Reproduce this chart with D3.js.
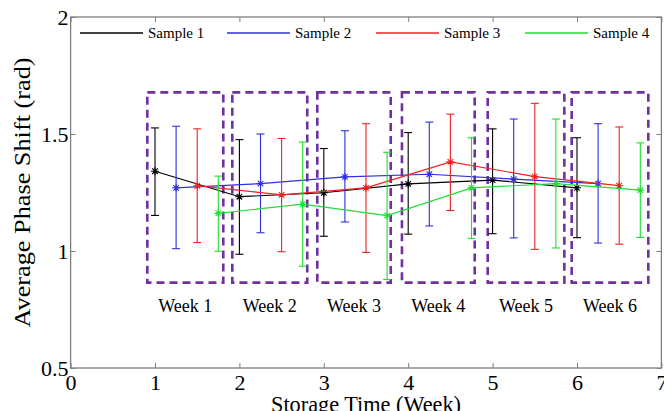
<!DOCTYPE html>
<html><head><meta charset="utf-8">
<script src="https://cdn.jsdelivr.net/npm/d3@7"></script>
<style>body{margin:0;background:#fff}svg{display:block}text{font-family:"Liberation Serif","Times New Roman",serif}</style>
</head><body><svg id="c" width="664" height="411"></svg>
<script>
const seriesNames = ["Sample 1","Sample 2","Sample 3","Sample 4"];
const seriesColors = ["#000000","#2f2fe0","#ee2222","#22dd33"];
const offsets = [0, 0.25, 0.5, 0.75];
const weeks = [1,2,3,4,5,6];
const weekLabels = ["Week 1","Week 2","Week 3","Week 4","Week 5","Week 6"];
const mean1 = [1.341,1.232,1.249,1.287,1.303,1.270];
const mean2 = [1.270,1.288,1.317,1.328,1.307,1.288];
const mean3 = [1.279,1.240,1.270,1.381,1.318,1.279];
const mean4 = [1.161,1.200,1.151,1.270,1.288,1.260];
const hi1 = [1.526,1.476,1.438,1.506,1.522,1.484];
const lo1 = [1.152,0.986,1.063,1.072,1.074,1.057];
const hi2 = [1.533,1.500,1.514,1.551,1.564,1.544];
const lo2 = [1.010,1.078,1.124,1.107,1.056,1.034];
const hi3 = [1.522,1.481,1.544,1.585,1.631,1.530];
const lo3 = [1.036,0.997,0.994,1.173,1.007,1.029];
const hi4 = [1.320,1.466,1.422,1.484,1.564,1.462];
const lo4 = [0.999,0.935,0.878,1.054,1.013,1.058];
const boxStart = [0.909,1.916,2.923,3.926,4.942,5.937];
const boxEnd = [1.809,2.804,3.793,4.788,5.850,6.845];
const boxLow = 0.865, boxHigh = 1.678;
const xTicks = [0,1,2,3,4,5,6,7];
const yTicks = [0.5,1,1.5,2];

const means=[mean1,mean2,mean3,mean4], his=[hi1,hi2,hi3,hi4], los=[lo1,lo2,lo3,lo4];
const svg = d3.select("#c");
const L=70.6, R=661.4, T=17, B=368;
const x = d3.scaleLinear().domain([0,7]).range([L,R]);
const y = d3.scaleLinear().domain([0.5,2]).range([B,T]);
const axisCol="#7f7f7f";

// frame
svg.append("rect").attr("x",L).attr("y",T).attr("width",R-L).attr("height",B-T)
  .attr("fill","none").attr("stroke",axisCol).attr("stroke-width",1.3);

function styleAxis(g){g.select(".domain").remove();g.selectAll(".tick line").attr("stroke",axisCol);
  g.selectAll(".tick text").attr("fill","#000").style("font-family","Liberation Serif");}
svg.append("g").attr("transform",`translate(0,${B})`)
  .call(d3.axisBottom(x).tickValues(xTicks).tickFormat(d3.format("d")).tickSizeInner(-5).tickPadding(6))
  .call(styleAxis).call(g=>g.selectAll(".tick text").attr("font-size",22));
svg.append("g").attr("transform",`translate(0,${T})`)
  .call(d3.axisTop(x).tickValues(xTicks).tickFormat("").tickSizeInner(-5)).call(styleAxis);
svg.append("g").attr("transform",`translate(${L},0)`)
  .call(d3.axisLeft(y).tickValues(yTicks).tickFormat(d=>String(d)).tickSizeInner(-5).tickPadding(2))
  .call(styleAxis).call(g=>g.selectAll(".tick text").attr("font-size",22));
svg.append("g").attr("transform",`translate(${R},0)`)
  .call(d3.axisRight(y).tickValues(yTicks).tickFormat("").tickSizeInner(-5)).call(styleAxis);

// boxes
weeks.forEach((w,i)=>{
  svg.append("rect").attr("x",x(boxStart[i])).attr("y",y(boxHigh))
    .attr("width",x(boxEnd[i])-x(boxStart[i])).attr("height",y(boxLow)-y(boxHigh))
    .attr("fill","none").attr("stroke","#7030a0").attr("stroke-width",2.6).attr("stroke-dasharray","8,5");
  svg.append("text").attr("x",(x(boxStart[i])+x(boxEnd[i]))/2).attr("y",y(boxLow)+29)
    .attr("text-anchor","middle").attr("font-size",18).text(weekLabels[i]);
});

// series
const line=d3.line().x(d=>x(d[0])).y(d=>y(d[1]));
means.forEach((m,s)=>{
  const col=seriesColors[s];
  const pts=weeks.map((w,i)=>[w+offsets[s],m[i]]);
  svg.append("path").attr("d",line(pts)).attr("fill","none").attr("stroke",col).attr("stroke-width",1.2);
  weeks.forEach((w,i)=>{
    const cx=x(w+offsets[s]);
    const g=svg.append("g").attr("stroke",col).attr("stroke-width",1.1);
    g.append("line").attr("x1",cx).attr("x2",cx).attr("y1",y(his[s][i])).attr("y2",y(los[s][i]));
    g.append("line").attr("x1",cx-4).attr("x2",cx+4).attr("y1",y(his[s][i])).attr("y2",y(his[s][i]));
    g.append("line").attr("x1",cx-4).attr("x2",cx+4).attr("y1",y(los[s][i])).attr("y2",y(los[s][i]));
    const cy=y(m[i]), r=4;
    g.append("path").attr("d",`M${cx-r},${cy}H${cx+r}M${cx},${cy-r}V${cy+r}M${cx-r*0.7},${cy-r*0.7}L${cx+r*0.7},${cy+r*0.7}M${cx-r*0.7},${cy+r*0.7}L${cx+r*0.7},${cy-r*0.7}`);
  });
});

// legend
const legX=[80,227,376,525];
seriesNames.forEach((n,s)=>{
  svg.append("line").attr("x1",legX[s]).attr("x2",legX[s]+63).attr("y1",33).attr("y2",33)
    .attr("stroke",seriesColors[s]).attr("stroke-width",1.6);
  svg.append("text").attr("x",legX[s]+68).attr("y",38).attr("font-size",15).text(n);
});

// titles
svg.append("text").attr("x",(L+R)/2).attr("y",412).attr("text-anchor","middle").attr("font-size",23)
  .attr("textLength",190).attr("lengthAdjust","spacingAndGlyphs").text("Storage Time (Week)");
svg.append("text").attr("transform",`translate(30,${(T+B)/2}) rotate(-90)`).attr("text-anchor","middle").attr("font-size",23)
  .attr("textLength",270).attr("lengthAdjust","spacingAndGlyphs").text("Average Phase Shift (rad)");
</script></body></html>
